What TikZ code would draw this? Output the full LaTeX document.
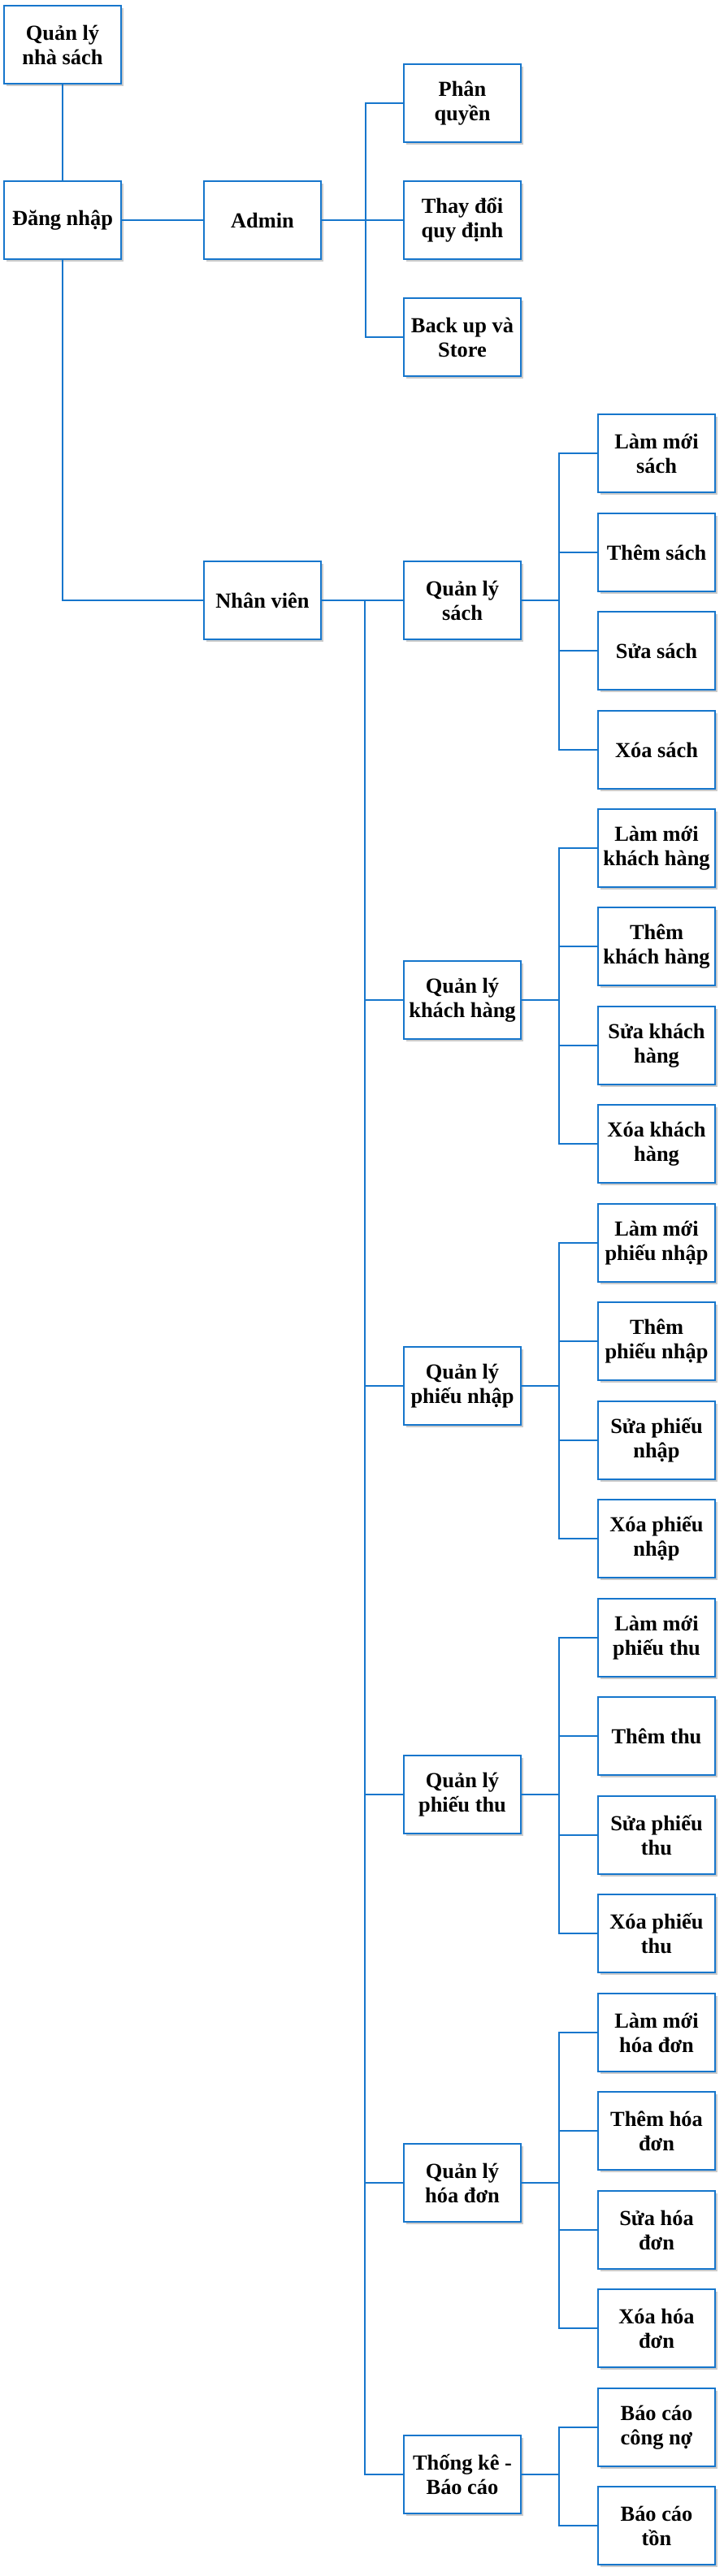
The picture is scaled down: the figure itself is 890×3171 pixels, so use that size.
\documentclass[tikz,border=0pt]{standalone}
\usepackage{fontspec}
\setmainfont{Liberation Serif}
\usetikzlibrary{shadows}
\definecolor{chartblue}{RGB}{22,118,204}
\definecolor{boxshadow}{RGB}{140,140,140}

\begin{document}
\begin{tikzpicture}[x=0.5pt, y=-0.5pt,
    box/.style={draw=chartblue, line width=1pt, fill=white, minimum width=72pt, minimum height=48pt,
        inner sep=2pt, align=center, font=\fontsize{13.2}{15}\selectfont\bfseries,
        drop shadow={shadow xshift=1.3pt, shadow yshift=-1.3pt, fill=boxshadow, opacity=0.45}},
    link/.style={chartblue, line width=0.8pt}]
    \useasboundingbox (0,0) rectangle (890,3171);

    % Root and login
    \node[box] (nhasach) at (77,55) {Quản lý\\nhà sách};
    \node[box] (dangnhap) at (77,271) {Đăng nhập};

    % Admin branch
    \node[box] (admin) at (323,271) {Admin};
    \node[box] (phanquyen) at (569,127) {Phân\\quyền};
    \node[box] (thaydoi) at (569,271) {Thay đổi\\quy định};
    \node[box] (backup) at (569,415) {Back up và\\Store};

    % Staff branch
    \node[box] (nhanvien) at (323,739) {Nhân viên};

    % Books
    \node[box] (qlsach) at (569,739) {Quản lý\\sách};
    \node[box] (lmsach) at (808,558) {Làm mới\\sách};
    \node[box] (themsach) at (808,680) {Thêm sách};
    \node[box] (suasach) at (808,801) {Sửa sách};
    \node[box] (xoasach) at (808,923) {Xóa sách};

    % Customers
    \node[box] (qlkh) at (569,1231) {Quản lý\\khách hàng};
    \node[box] (lmkh) at (808,1044) {Làm mới\\khách hàng};
    \node[box] (themkh) at (808,1165) {Thêm\\khách hàng};
    \node[box] (suakh) at (808,1287) {Sửa khách\\hàng};
    \node[box] (xoakh) at (808,1408) {Xóa khách\\hàng};

    % Import slips
    \node[box] (qlpn) at (569,1706) {Quản lý\\phiếu nhập};
    \node[box] (lmpn) at (808,1530) {Làm mới\\phiếu nhập};
    \node[box] (thempn) at (808,1651) {Thêm\\phiếu nhập};
    \node[box] (suapn) at (808,1773) {Sửa phiếu\\nhập};
    \node[box] (xoapn) at (808,1894) {Xóa phiếu\\nhập};

    % Receipts
    \node[box] (qlpt) at (569,2209) {Quản lý\\phiếu thu};
    \node[box] (lmpt) at (808,2016) {Làm mới\\phiếu thu};
    \node[box] (thempt) at (808,2137) {Thêm thu};
    \node[box] (suapt) at (808,2259) {Sửa phiếu\\thu};
    \node[box] (xoapt) at (808,2380) {Xóa phiếu\\thu};

    % Invoices
    \node[box] (qlhd) at (569,2687) {Quản lý\\hóa đơn};
    \node[box] (lmhd) at (808,2502) {Làm mới\\hóa đơn};
    \node[box] (themhd) at (808,2623) {Thêm hóa\\đơn};
    \node[box] (suahd) at (808,2745) {Sửa hóa\\đơn};
    \node[box] (xoahd) at (808,2866) {Xóa hóa\\đơn};

    % Reports
    \node[box] (thongke) at (569,3046) {Thống kê -\\Báo cáo};
    \node[box] (bccongno) at (808,2988) {Báo cáo\\công nợ};
    \node[box] (bcton) at (808,3109) {Báo cáo\\tồn};

    % Links: root, login, admin
    \draw[link] (nhasach) -- (dangnhap);
    \draw[link] (dangnhap) -- (admin);
    \draw[link] (dangnhap.south) |- (nhanvien.west);
    \coordinate (adminbus) at (450,271);
    \draw[link] (admin) -- (thaydoi);
    \draw[link] (adminbus) |- (phanquyen.west);
    \draw[link] (adminbus) |- (backup.west);

    % Links: staff bus
    \coordinate (nvbus) at (449,739);
    \draw[link] (nhanvien) -- (qlsach);
    \draw[link] (nvbus) |- (qlkh.west);
    \draw[link] (nvbus) |- (qlpn.west);
    \draw[link] (nvbus) |- (qlpt.west);
    \draw[link] (nvbus) |- (qlhd.west);
    \draw[link] (nvbus) |- (thongke.west);

    % Links: books
    \coordinate (sachbus) at (688,739);
    \draw[link] (qlsach.east) -- (sachbus);
    \draw[link] (sachbus) |- (lmsach.west);
    \draw[link] (sachbus) |- (themsach.west);
    \draw[link] (sachbus) |- (suasach.west);
    \draw[link] (sachbus) |- (xoasach.west);

    % Links: customers
    \coordinate (khbus) at (688,1231);
    \draw[link] (qlkh.east) -- (khbus);
    \draw[link] (khbus) |- (lmkh.west);
    \draw[link] (khbus) |- (themkh.west);
    \draw[link] (khbus) |- (suakh.west);
    \draw[link] (khbus) |- (xoakh.west);

    % Links: import slips
    \coordinate (pnbus) at (688,1706);
    \draw[link] (qlpn.east) -- (pnbus);
    \draw[link] (pnbus) |- (lmpn.west);
    \draw[link] (pnbus) |- (thempn.west);
    \draw[link] (pnbus) |- (suapn.west);
    \draw[link] (pnbus) |- (xoapn.west);

    % Links: receipts
    \coordinate (ptbus) at (688,2209);
    \draw[link] (qlpt.east) -- (ptbus);
    \draw[link] (ptbus) |- (lmpt.west);
    \draw[link] (ptbus) |- (thempt.west);
    \draw[link] (ptbus) |- (suapt.west);
    \draw[link] (ptbus) |- (xoapt.west);

    % Links: invoices
    \coordinate (hdbus) at (688,2687);
    \draw[link] (qlhd.east) -- (hdbus);
    \draw[link] (hdbus) |- (lmhd.west);
    \draw[link] (hdbus) |- (themhd.west);
    \draw[link] (hdbus) |- (suahd.west);
    \draw[link] (hdbus) |- (xoahd.west);

    % Links: reports
    \coordinate (tkbus) at (688,3046);
    \draw[link] (thongke.east) -- (tkbus);
    \draw[link] (tkbus) |- (bccongno.west);
    \draw[link] (tkbus) |- (bcton.west);
\end{tikzpicture}
\end{document}
